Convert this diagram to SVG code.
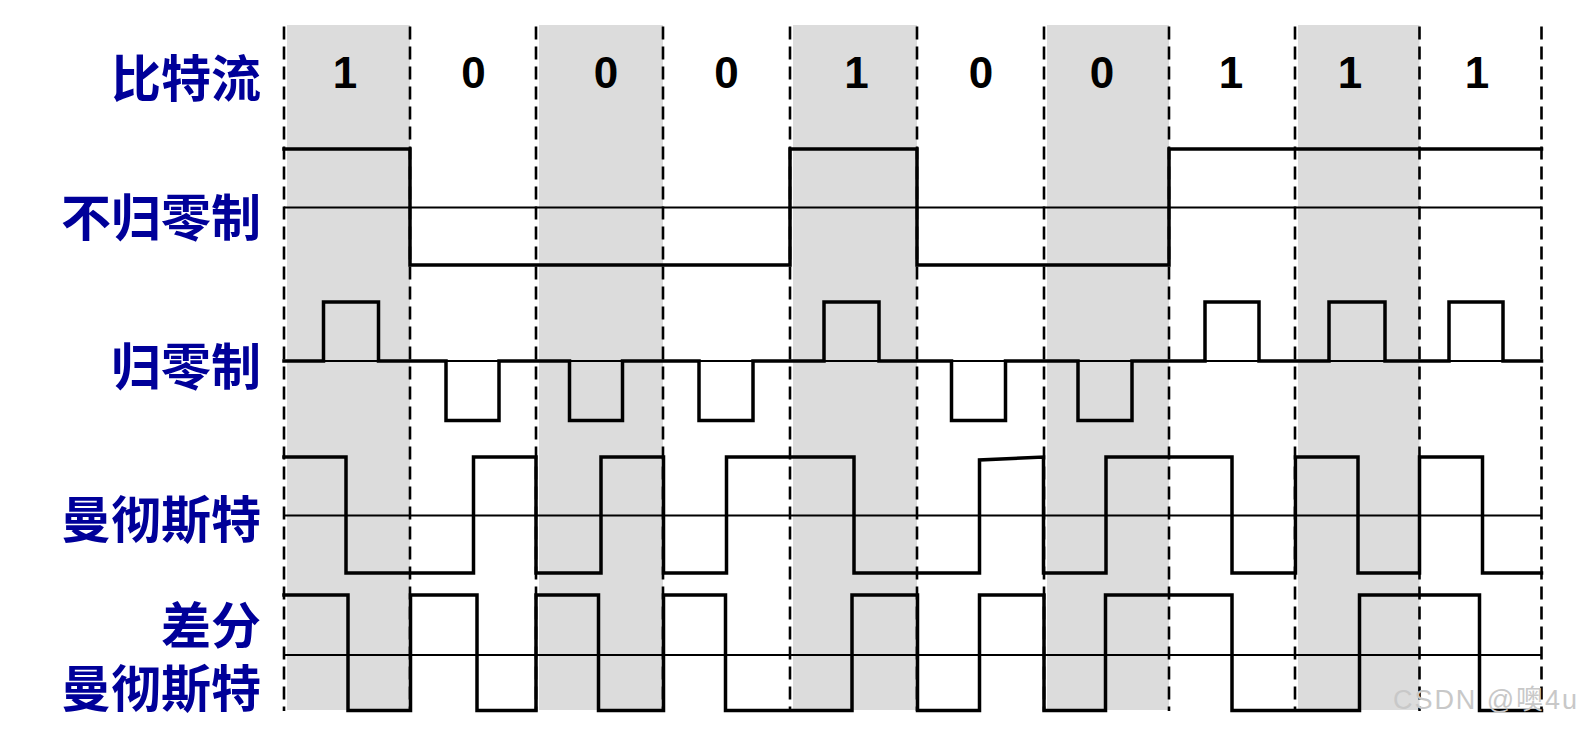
<svg xmlns="http://www.w3.org/2000/svg" width="1582" height="731" viewBox="0 0 1582 731">
<style>
.lbl{font-family:"Noto Sans CJK SC","Noto Sans CJK TC",sans-serif;font-weight:700;font-size:50px;fill:#000099;text-anchor:end}
.bit{font-family:"Liberation Sans",Arial,sans-serif;font-weight:700;font-size:44px;fill:#000;text-anchor:middle}
.shade{fill:#dcdcdc}
.grid{stroke:#000;stroke-width:2.6;stroke-dasharray:13 7;fill:none}
.axis{stroke:#000;stroke-width:1.8;fill:none}
.wave{stroke:#000;stroke-width:3.5;fill:none;stroke-linejoin:miter;stroke-linecap:square}
.wm{font-family:"Liberation Sans",Arial,"Noto Sans CJK SC",sans-serif;font-size:27px;fill:#c8c8c8}
</style>
<rect width="1582" height="731" fill="#fff"/>
<g id="shading">
<rect class="shade" x="287" y="25" width="123" height="685"/>
<rect class="shade" x="539" y="25" width="124" height="685"/>
<rect class="shade" x="793" y="25" width="124" height="685"/>
<rect class="shade" x="1047" y="25" width="122" height="685"/>
<rect class="shade" x="1298" y="25" width="121.5" height="685"/>
</g>
<g id="bit-boundaries">
<line class="grid" x1="284" y1="26.5" x2="284" y2="711"/>
<line class="grid" x1="410" y1="26.5" x2="410" y2="711"/>
<line class="grid" x1="536" y1="26.5" x2="536" y2="711"/>
<line class="grid" x1="663" y1="26.5" x2="663" y2="711"/>
<line class="grid" x1="790" y1="26.5" x2="790" y2="711"/>
<line class="grid" x1="917" y1="26.5" x2="917" y2="711"/>
<line class="grid" x1="1044" y1="26.5" x2="1044" y2="711"/>
<line class="grid" x1="1169" y1="26.5" x2="1169" y2="711"/>
<line class="grid" x1="1295" y1="26.5" x2="1295" y2="711"/>
<line class="grid" x1="1419.5" y1="26.5" x2="1419.5" y2="711"/>
<line class="grid" x1="1541.5" y1="26.5" x2="1541.5" y2="711"/>
</g>
<g id="row-bitstream">
<text class="lbl" x="261" y="97">比特流</text>
<text class="bit" x="345" y="87.5">1</text>
<text class="bit" x="473.5" y="87.5">0</text>
<text class="bit" x="606" y="87.5">0</text>
<text class="bit" x="726.5" y="87.5">0</text>
<text class="bit" x="856.5" y="87.5">1</text>
<text class="bit" x="981" y="87.5">0</text>
<text class="bit" x="1102" y="87.5">0</text>
<text class="bit" x="1231" y="87.5">1</text>
<text class="bit" x="1350" y="87.5">1</text>
<text class="bit" x="1477" y="87.5">1</text>
</g>
<g id="row-nrz">
<text class="lbl" x="261" y="236">不归零制</text>
<line class="axis" x1="284" y1="207.5" x2="1541.5" y2="207.5"/>
<path class="wave" d="M284,149 H410 V265 H790 V149 H917 V265 H1169 V149 H1541.5"/>
</g>
<g id="row-rz">
<text class="lbl" x="261" y="385">归零制</text>
<line class="axis" x1="284" y1="361" x2="1541.5" y2="361"/>
<path class="wave" d="M284,361 H323.5 V302 H378.5 V361 H446 V420.5 H499 V361 H569.5 V420.5 H622.5 V361 H699 V420.5 H753 V361 H824 V302 H879 V361 H951.5 V420.5 H1005.5 V361 H1078 V420.5 H1132 V361 H1205 V302 H1259 V361 H1329 V302 H1385 V361 H1449 V302 H1503 V361 H1541.5"/>
</g>
<g id="row-manchester">
<text class="lbl" x="261" y="538">曼彻斯特</text>
<line class="axis" x1="284" y1="515.5" x2="1541.5" y2="515.5"/>
<path class="wave" d="M284,457 H346 V573 H473.5 V457 H536 V573 H601 V457 H663.5 V573 H726.5 V457 H854 V573 H979.5 V460 L1043.5,457 V573 H1106 V457 H1232 V573 H1295.5 V457 H1358 V573 H1419.5 V457 H1482.5 V573 H1541.5"/>
</g>
<g id="row-diff-manchester">
<text class="lbl" x="261" y="644">差分<tspan x="261" y="707">曼彻斯特</tspan></text>
<line class="axis" x1="284" y1="655" x2="1541.5" y2="655"/>
<path class="wave" d="M284,595 H348 V710.5 H410.5 V595 H477 V710.5 H536 V595 H598.5 V710.5 H663.5 V595 H725.5 V710.5 H852 V595 H917.5 V710.5 H979.5 V595 H1044 V710.5 H1105.5 V595 H1232 V710.5 H1359.5 V595 H1479.5 V710.5 H1541.5"/>
</g>
<text class="wm" x="1393" y="709" textLength="184" lengthAdjust="spacing">CSDN @噢4u</text>
</svg>
